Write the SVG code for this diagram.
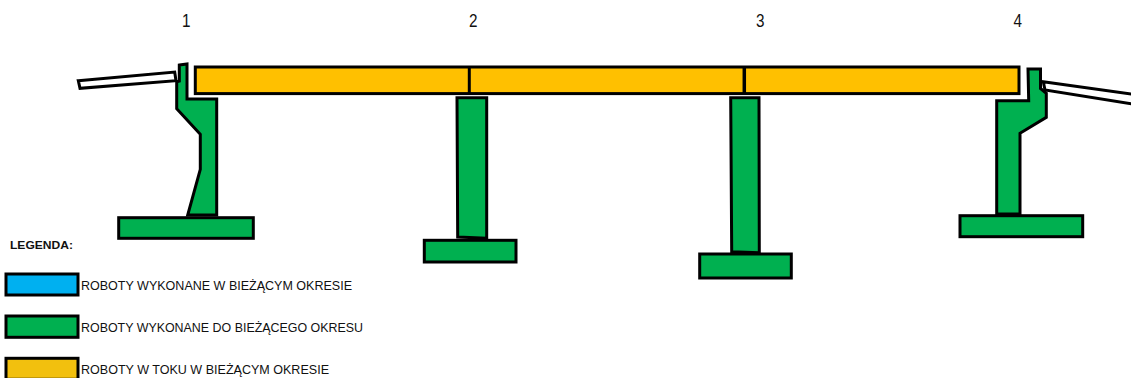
<svg xmlns="http://www.w3.org/2000/svg" width="1131" height="378" viewBox="0 0 1131 378">
<style>
.s{stroke:#000;stroke-width:3;stroke-linejoin:miter}
.g{fill:#00b050}
.y{fill:#ffc000}
.w{fill:#fff}
text{font-family:"Liberation Sans",Arial,sans-serif;fill:#111}
.n{font-size:18.5px}
.l{font-size:12.8px}
</style>
<rect width="1131" height="378" fill="#fff"/>
<g id="labels">
<text class="n" x="182" y="27" textLength="8.5" lengthAdjust="spacingAndGlyphs">1</text>
<text class="n" x="469" y="27" textLength="8.5" lengthAdjust="spacingAndGlyphs">2</text>
<text class="n" x="756" y="27" textLength="8.5" lengthAdjust="spacingAndGlyphs">3</text>
<text class="n" x="1013.5" y="27" textLength="8.5" lengthAdjust="spacingAndGlyphs">4</text>
</g>
<g id="approach-left"><polygon class="s w" points="78.3,80.7 174.7,72 176,80.7 80,88.3"/></g>
<g id="approach-right"><polygon class="s w" points="1043.3,81.7 1133,94.3 1133,104 1045,90"/></g>
<g id="deck">
<rect class="s y" x="195.3" y="67" width="823.7" height="26.6"/>
<line class="s" x1="469.3" y1="66" x2="469.3" y2="94"/>
<line class="s" x1="744.3" y1="66" x2="744.3" y2="94" style="stroke-width:3.5"/>
</g>
<g id="support-1">
<polygon class="s g" points="179.3,65 187,64 187,99 216.7,99 216.7,215 187.7,215 200.3,169.3 200.3,134.3 176.7,108.7 176.7,81.7 179.3,81"/>
<rect class="s g" x="118.7" y="217.7" width="134.6" height="20.6"/>
</g>
<g id="support-2">
<polygon class="s g" points="457,97.7 486.7,97.7 486.7,238.3 457.7,237"/>
<rect class="s g" x="424.3" y="240.3" width="91.7" height="21.7"/>
</g>
<g id="support-3">
<polygon class="s g" points="730.7,97.7 759,97.7 759.3,252.7 731.7,251.7"/>
<rect class="s g" x="699.7" y="254" width="91.6" height="24"/>
</g>
<g id="support-4">
<polygon class="s g" points="1028,69 1040.5,69 1040.5,88.5 1046.3,93.3 1046.3,117.3 1020,133.3 1020,214 996.7,214 996.7,100.7 1028.7,100.7"/>
<rect class="s g" x="960" y="215.7" width="122.7" height="21"/>
</g>
<g id="legend">
<text x="10" y="249" font-size="11.5" font-weight="bold" textLength="63" lengthAdjust="spacingAndGlyphs">LEGENDA:</text>
<rect class="s" x="6" y="274" width="72" height="21" fill="#00b0f0"/>
<rect class="s g" x="6" y="316" width="72" height="21.3"/>
<rect class="s" x="6" y="358.3" width="72" height="21" fill="#f2c00e"/>
<text class="l" x="81" y="290" textLength="271" lengthAdjust="spacingAndGlyphs">ROBOTY WYKONANE W BIEŻĄCYM OKRESIE</text>
<text class="l" x="81" y="332" textLength="282" lengthAdjust="spacingAndGlyphs">ROBOTY WYKONANE DO BIEŻĄCEGO OKRESU</text>
<text class="l" x="81" y="374" textLength="248" lengthAdjust="spacingAndGlyphs">ROBOTY W TOKU W BIEŻĄCYM OKRESIE</text>
</g>
</svg>
